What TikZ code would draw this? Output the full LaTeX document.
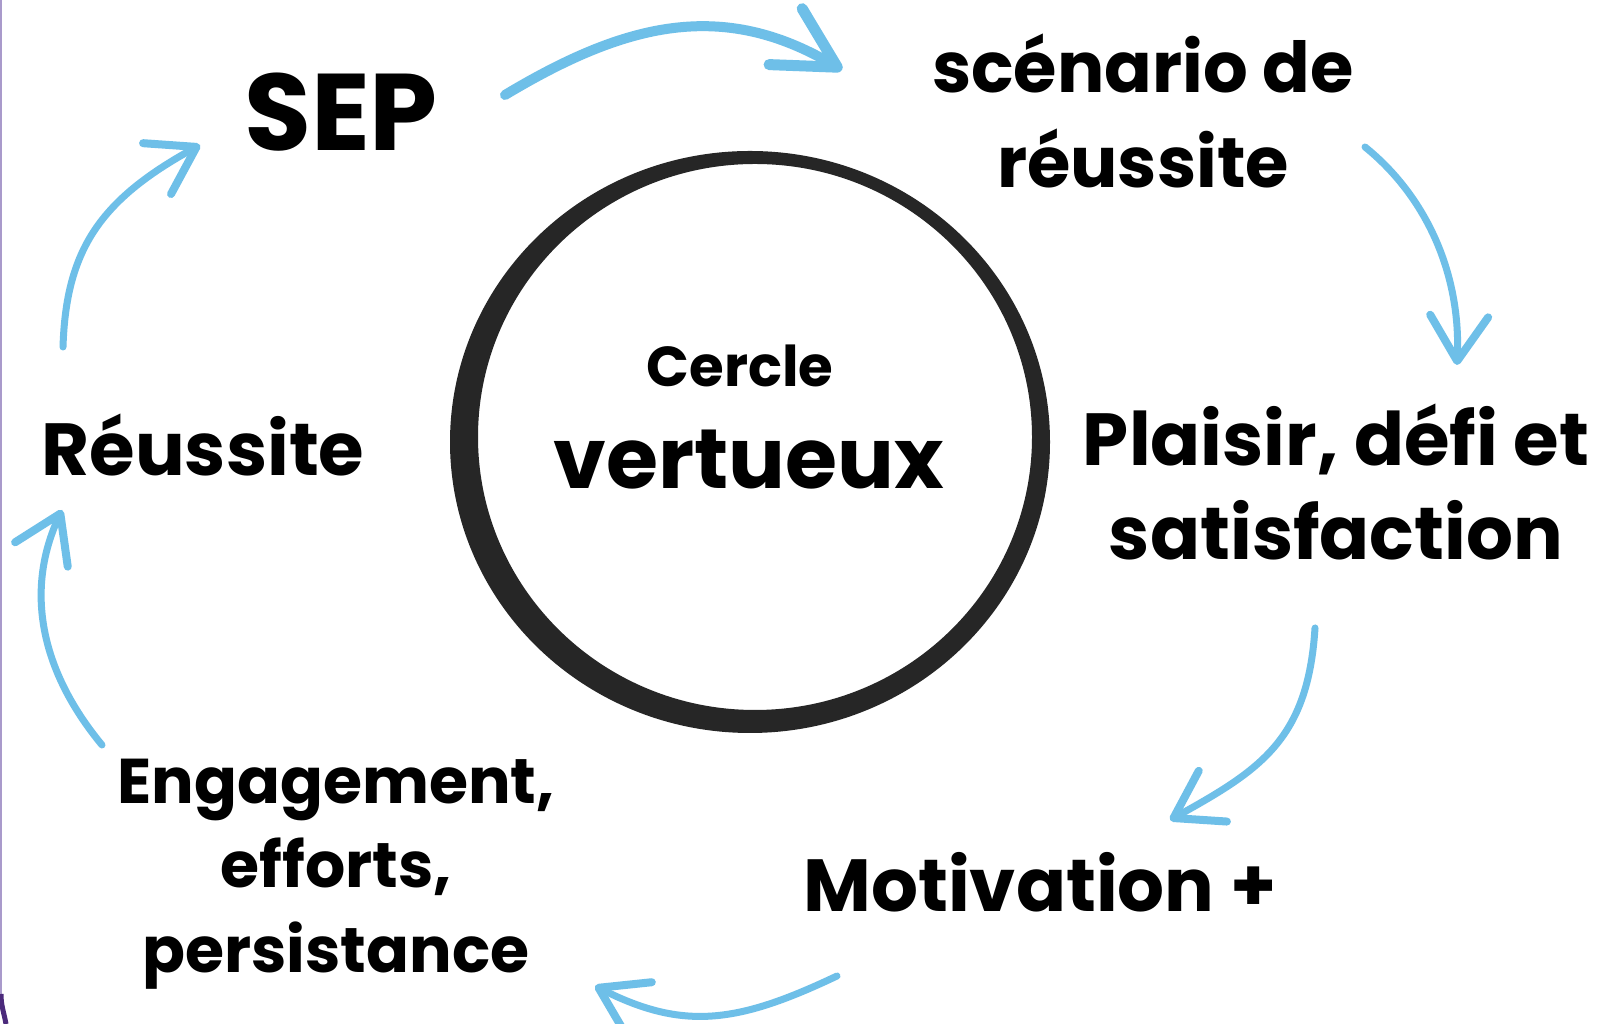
\documentclass[tikz,border=0pt]{standalone}
\usepackage{fontspec}
\setmainfont{Poppins}
\usepackage{tikz}
\usetikzlibrary{arrows.meta,positioning}
\definecolor{skyarrow}{HTML}{6EBFE8}
\definecolor{ringgrey}{HTML}{262626}
\definecolor{framelilac}{HTML}{A99ACB}
\definecolor{framepurple}{HTML}{4B2A7B}

\begin{document}
\begin{tikzpicture}[
    x=0.1mm, y=0.1mm,
    stage/.style={font=\fontsize{21}{27}\selectfont\bfseries, align=center, inner sep=0pt},
    title/.style={font=\fontsize{31}{36}\selectfont\bfseries, inner sep=0pt},
    flow/.style={draw=skyarrow, line width=0.7mm, line cap=round, -{Straight Barb[length=4.5mm, width=5.8mm, line width=0.8mm, round]}},
    bigflow/.style={flow, line width=1mm, -{Straight Barb[length=6mm, width=6.5mm, line width=1.1mm, round]}}
]
    \useasboundingbox (0,0) rectangle (1603,1024);
    \fill[white] (0,0) rectangle (1603,1024);
    % Frame edge
    \draw[framelilac, line width=0.3mm] (1,1024) -- (1,30);
    \draw[framepurple, line width=0.5mm] (1,30) to[out=-90, in=100] (6,0);

    % Centre ring
    \fill[ringgrey, even odd rule] (750,582) ellipse [x radius=300, y radius=291]
        (755,587) ellipse [x radius=277, y radius=273];
    \node[font=\fontsize{16}{20}\selectfont\bfseries] (cercle) at (740,658) {Cercle};
    \node[font=\fontsize{24}{28}\selectfont\bfseries] (vertueux) at (749,564) {vertueux};

    % Stages
    \node[title] (sep) at (341,912) {SEP};
    \node[stage, font=\fontsize{20}{27}\selectfont\bfseries] (scenario) at (1143,913) {scénario de\\réussite};
    \node[stage] (plaisir) at (1336,542) {Plaisir, défi et\\satisfaction};
    \node[stage] (motivation) at (1040,142) {Motivation +};
    \node[stage, font=\fontsize{18}{24}\selectfont\bfseries] (engagement) at (336,150) {Engagement,\\efforts,\\persistance};
    \node[stage] (reussite) at (203,579) {Réussite};

    % Arrow ends
    \coordinate (sepout) at (505,929);
    \coordinate (scenin) at (842,954);
    \coordinate (scenout) at (1365,877);
    \coordinate (plaisin) at (1457,659);
    \coordinate (plaisout) at (1315,396);
    \coordinate (motivin) at (1170,204);
    \coordinate (motivout) at (837,48);
    \coordinate (engagin) at (595,38);
    \coordinate (engagout) at (102,279);
    \coordinate (reussin) at (62,514);
    \coordinate (reussout) at (63,677);
    \coordinate (sepin) at (200,879);

    % Arrows
    \draw[bigflow] (sepout) .. controls (625,1001) and (722,1025) .. (scenin);
    \draw[flow] (scenout) .. controls (1427,827) and (1461,749) .. (plaisin);
    \draw[flow] (plaisout) .. controls (1308,284) and (1260,254) .. (motivin);
    \draw[flow] (motivout) .. controls (738,1) and (684,-7) .. (engagin);
    \draw[flow] (engagout) .. controls (40,354) and (25,434) .. (reussin);
    \draw[flow] (reussout) .. controls (66,774) and (100,824) .. (sepin);
\end{tikzpicture}
\end{document}
